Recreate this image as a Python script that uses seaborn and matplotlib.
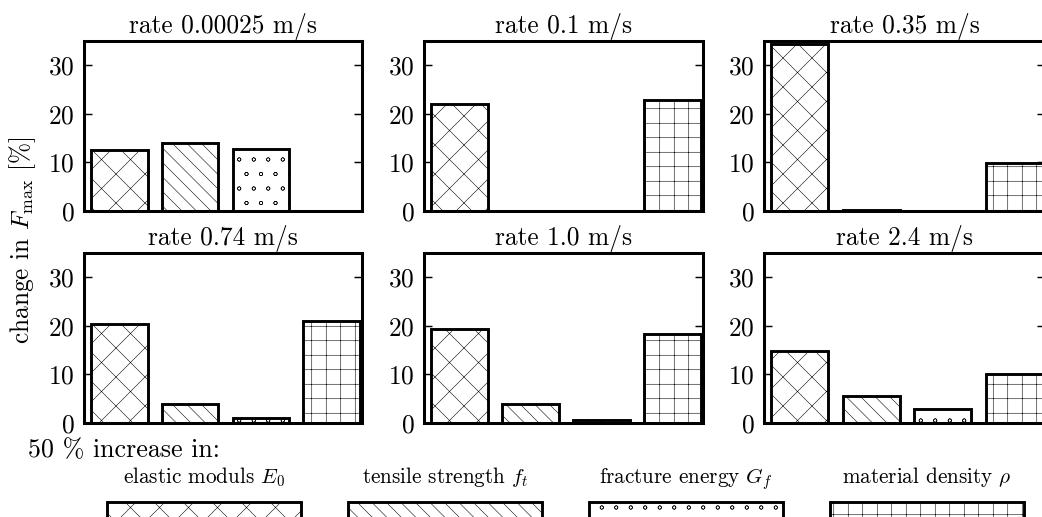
import numpy as np
import pandas as pd
import matplotlib
matplotlib.use("Agg")
import matplotlib.pyplot as plt
import matplotlib.hatch as mhatch
import seaborn as sns
from matplotlib.patches import Patch

# ---------------- data ----------------
rates = ["0.00025", "0.1", "0.35", "0.74", "1.0", "2.4"]
param_keys = ["E0", "ft", "Gf", "rho"]
param_labels = ["elastic moduls $E_0$", "tensile strength $f_t$",
                "fracture energy $G_f$", "material density $\\rho$"]
E_vals = [12.5, 22.1, 34.4, 20.4, 19.4, 14.9]
ft_vals = [13.9, 0.0, 0.3, 4.0, 3.9, 5.6]
Gf_vals = [12.7, 0.0, 0.0, 1.0, 0.6, 2.9]
rho_vals = [0.0, 22.9, 9.8, 21.1, 18.3, 10.0]
y_ticks = [0, 10, 20, 30]

# ---------------- style ----------------
hatches = ["x", "\\\\", "o", "+"]
mhatch.SmallCircles.size = 0.12   # smaller open circles for the 'o' hatch
DPI = 87
W, H = 1042, 517

sns.set_theme(style="white")
plt.rcParams.update({
    "font.family": ["cmr10", "DejaVu Serif"],
    "mathtext.fontset": "cm",
    "axes.formatter.use_mathtext": True,
    "hatch.linewidth": 0.45,
    "axes.edgecolor": "black",
    "axes.linewidth": 2.5,
    "text.color": "black",
    "xtick.color": "black",
    "ytick.color": "black",
    "axes.labelcolor": "black",
})

fig = plt.figure(figsize=(W / DPI, H / DPI), dpi=DPI)

col_left = [84, 424, 764]
col_w = [278, 279, 281]
row_top = [41, 253]
ax_h = 170

bar_lw = 2.4
for i, rate in enumerate(rates):
    r, c = divmod(i, 3)
    left = col_left[c] / W
    bottom = 1 - (row_top[r] + ax_h) / H
    ax = fig.add_axes([left, bottom, col_w[c] / W, ax_h / H])
    df = pd.DataFrame({"param": param_keys,
                       "value": [E_vals[i], ft_vals[i], Gf_vals[i], rho_vals[i]]})
    sns.barplot(data=df, x="param", y="value", ax=ax, color="white",
                saturation=1, edgecolor="black", linewidth=bar_lw,
                width=0.8, errorbar=None)
    for p, h in zip(ax.patches, hatches):
        p.set_hatch(h)
    ax.set_xlim(-0.5, 3.43)
    ax.set_ylim(0, 35)
    ax.set_yticks(y_ticks)
    ax.set_xticks([])
    ax.set_xlabel("")
    ax.set_ylabel("")
    for s in ax.spines.values():
        s.set_visible(True)
        s.set_linewidth(2.5)
        s.set_color("black")
        s.set_zorder(5)
    ax.tick_params(axis="y", direction="in", left=True, right=True,
                   length=6.6, width=1.2, labelsize=21, pad=8)
    ax.set_title(f"rate {rate} m/s", fontsize=21, pad=7)

fig.text(23 / W, 1 - 240 / H, "change in $F_\\mathrm{max}$ [%]",
         rotation=90, ha="center", va="center", fontsize=21)

fig.text(28 / W, 1 - 457 / H, "50 % increase in:", ha="left",
         va="baseline", fontsize=21.5)

# legend (one swatch per parameter, captions above)
fs_leg = 17.5
px_per_em = fs_leg * DPI / 72.0
handles = [Patch(facecolor="white", edgecolor="black", hatch=h, linewidth=bar_lw)
           for h in hatches]
leg = fig.legend(handles=handles, labels=[""] * 4, ncol=4,
                 loc="upper center", bbox_to_anchor=(565.5 / W, 1 - 502 / H),
                 frameon=False, fontsize=fs_leg,
                 handlelength=194 / px_per_em, handleheight=2.2,
                 handletextpad=0, columnspacing=46.7 / px_per_em,
                 borderpad=0, borderaxespad=0)

centers = [204.5, 445, 685.5, 926.5]
for cx, lab in zip(centers, param_labels):
    fig.text(cx / W, 1 - 483 / H, lab, ha="center", va="baseline",
             fontsize=fs_leg)

fig.savefig("out.png", dpi=DPI)
